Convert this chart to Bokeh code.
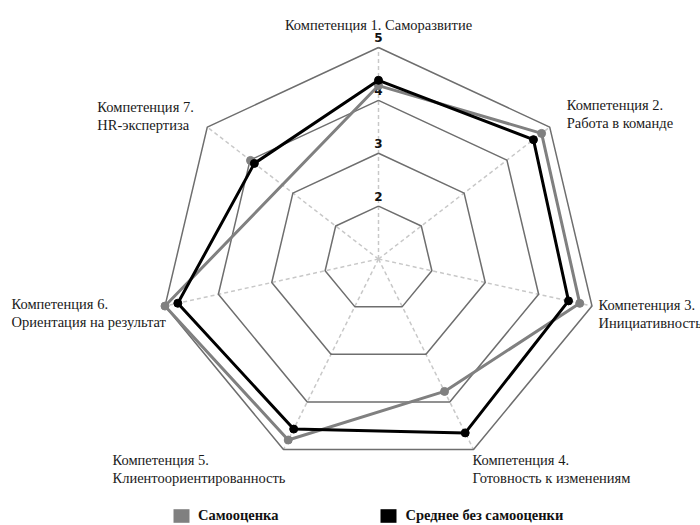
import numpy as np
from bokeh.plotting import figure
from bokeh.models import ColumnDataSource, Range1d, Legend, LegendItem
from bokeh.core.properties import value
from bokeh.embed import file_html
from bokeh.resources import INLINE

# ---------------- data ----------------
competency_titles = ["Компетенция 1.", "Компетенция 2.", "Компетенция 3.", "Компетенция 4.",
                     "Компетенция 5.", "Компетенция 6.", "Компетенция 7."]
competency_names = ["Саморазвитие", "Работа в команде", "Инициативность", "Готовность к изменениям",
                    "Клиентоориентированность", "Ориентация на результат", "HR-экспертиза"]
self_rating = [4.28, 4.81, 4.77, 3.78, 4.80, 5.00, 3.99]          # Самооценка
avg_without_self = [4.38, 4.62, 4.56, 4.65, 4.57, 4.76, 3.90]     # Среднее без самооценки
self_path_order = [0, 1, 2, 3, 4, 5, 0]
scale_min, scale_max = 1, 5
ring_values = [2, 3, 4, 5]
tick_labels = ["2", "3", "4", "5"]
series_names = ["Самооценка", "Среднее без самооценки"]

# ---------------- layout ----------------
W, H = 700, 525
cx_px, cy_px = 378.0, 258.5
rx_px, ry_px = 219.0, 211.5
x0 = -cx_px / rx_px
x1 = x0 + W / rx_px
y1 = cy_px / ry_px
y0 = y1 - H / ry_px

n = len(competency_names)
theta = np.pi / 2 - 2 * np.pi * np.arange(n) / n


def to_xy(vals):
    r = (np.asarray(vals, dtype=float) - scale_min) / (scale_max - scale_min)
    return r * np.cos(theta), r * np.sin(theta)


p = figure(width=W, height=H, output_backend="svg", toolbar_location=None,
           x_range=Range1d(x0, x1), y_range=Range1d(y0, y1),
           min_border=0, outline_line_color=None)
p.axis.visible = False
p.grid.visible = False
p.background_fill_color = "white"

# spokes
ox, oy = to_xy([scale_max] * n)
p.segment(x0=[0] * n, y0=[0] * n, x1=ox, y1=oy, line_color="#c8c8c8",
          line_width=1.5, line_dash="4 3")

# rings
for rv in ring_values:
    xs, ys = to_xy([rv] * n)
    p.line(list(xs) + [xs[0]], list(ys) + [ys[0]], line_color="#6e6e6e", line_width=1.5)

# tick labels on top spoke
tx = [0.0] * len(ring_values)
ty = [(v - scale_min) / (scale_max - scale_min) for v in ring_values]
p.text(x=tx, y=ty, text=tick_labels, text_font=value("DejaVu Sans"), text_font_size="12px",
       text_font_style="bold", text_align="center", text_baseline="middle", y_offset=-10,
       text_color="#111111")

# series
gx, gy = to_xy(self_rating)
bx, by = to_xy(avg_without_self)
p.line([gx[i] for i in self_path_order], [gy[i] for i in self_path_order],
       line_color="#808080", line_width=3)
p.scatter(gx, gy, size=8, fill_color="#808080", line_color="#808080")
p.line(list(bx) + [bx[0]], list(by) + [by[0]], line_color="#000000", line_width=3)
p.scatter(bx, by, size=8, fill_color="#000000", line_color="#000000")

# category labels
label_dx = [0, 17, 6.5, -1, -171, -153.5, -110]
label_dy = [-23, -13.6, 8, 19.5, 19.5, 7, -11.6]
label_align = ["center", "left", "left", "left", "left", "left", "left"]
line_gap = 18
lx, ly, lt, lxo, lyo, la = [], [], [], [], [], []
for k in range(n):
    if k == 0:
        rows = [(competency_titles[k] + " " + competency_names[k], 0)]
    else:
        rows = [(competency_titles[k], -line_gap / 2), (competency_names[k], line_gap / 2)]
    for txt, dy in rows:
        lx.append(ox[k]); ly.append(oy[k]); lt.append(txt)
        lxo.append(label_dx[k]); lyo.append(label_dy[k] + dy); la.append(label_align[k])
src = ColumnDataSource(dict(x=lx, y=ly, text=lt, xo=lxo, yo=lyo, align=la))
p.text(x="x", y="y", text="text", x_offset="xo", y_offset="yo", text_align="align",
       text_baseline="middle", text_font=value("Liberation Serif"), text_font_size="14.5px",
       text_color="#1a1a1a", source=src)

# legend (swatches have no visible data point)
sw_gray = p.rect(x=[np.nan], y=[np.nan], width=1, height=1, fill_color="#808080", line_color=None)
sw_black = p.rect(x=[np.nan], y=[np.nan], width=1, height=1, fill_color="#000000", line_color=None)
legend = Legend(items=[LegendItem(label=series_names[0], renderers=[sw_gray]),
                       LegendItem(label=series_names[1], renderers=[sw_black])],
                orientation="horizontal", location=(171, 1), padding=0, margin=0,
                spacing=100, glyph_width=20, glyph_height=17, label_standoff=7,
                label_height=17, border_line_color=None, background_fill_alpha=0,
                label_text_font="Liberation Serif", label_text_font_style="bold",
                label_text_font_size="14.5px", label_text_color="#111111")
p.add_layout(legend)

open("out.html", "w").write(file_html(p, INLINE))
